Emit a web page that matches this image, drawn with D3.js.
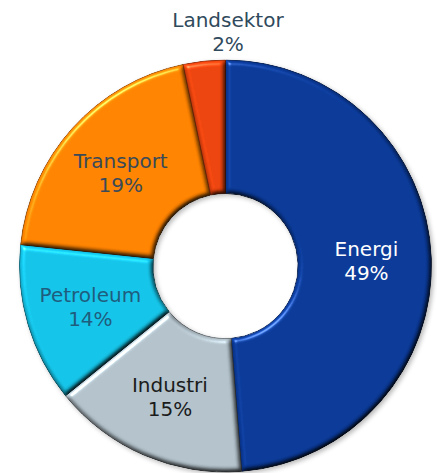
<!DOCTYPE html>
<html lang="en">
<head>
  <meta charset="UTF-8">
  <title>Utslipp per sektor</title>
  <style>
    body { margin: 0; background: #fff; }
    svg { display: block; }
    .lbl { font-family: 'DejaVu Sans', Verdana, sans-serif; font-size: 20px; text-anchor: middle; }
  </style>
</head>
<body>
<svg width="437" height="473"></svg>

<script src="https://cdn.jsdelivr.net/npm/d3@7"></script>
<script>
// data (shares as drawn, labels as printed)
const sectors = ["Energi", "Industri", "Petroleum", "Transport", "Landsektor"];
const shares = [48.75, 15.4, 12.5, 20.05, 3.3];
const pctLabels = ["49%", "15%", "14%", "19%", "2%"];
const colors = ["#0a3997", "#b2c1ca", "#14c4e8", "#ff8300", "#ec440e"];
const textColors = ["#ffffff", "#1b1b1b", "#1f5d7e", "#3a4a58", "#2f4a5c"];

const width = 437, height = 473;
const cx = 225.5, cy = 266;
const outerR = 206, innerR = 72.5;

const svg = d3.select("svg");
const defs = svg.append("defs");

// bevel look: diffuse light for the edges + a soft specular glint
const f = defs.append("filter").attr("id", "bevel")
  .attr("color-interpolation-filters", "sRGB")
  .attr("x", "-5%").attr("y", "-5%").attr("width", "110%").attr("height", "110%");
f.append("feGaussianBlur").attr("in", "SourceAlpha").attr("stdDeviation", 2.4).attr("result", "blur");
f.append("feDiffuseLighting").attr("in", "blur").attr("surfaceScale", 4)
  .attr("diffuseConstant", 1).attr("lighting-color", "#fff").attr("result", "diff")
  .append("feDistantLight").attr("azimuth", 235).attr("elevation", 60);
f.append("feComposite").attr("in", "SourceGraphic").attr("in2", "diff")
  .attr("operator", "arithmetic").attr("k1", 1.155).attr("k2", 0).attr("k3", 0).attr("k4", 0)
  .attr("result", "shaded");
f.append("feSpecularLighting").attr("in", "blur").attr("surfaceScale", 4)
  .attr("specularConstant", 0.55).attr("specularExponent", 40)
  .attr("lighting-color", "#fff").attr("result", "spec")
  .append("feDistantLight").attr("azimuth", 235).attr("elevation", 40);
f.append("feComposite").attr("in", "spec").attr("in2", "SourceAlpha")
  .attr("operator", "in").attr("result", "specIn");
f.append("feComposite").attr("in", "shaded").attr("in2", "specIn")
  .attr("operator", "arithmetic").attr("k1", 0).attr("k2", 1).attr("k3", 0.8).attr("k4", 0)
  .attr("result", "lit");
f.append("feComposite").attr("in", "lit").attr("in2", "SourceAlpha").attr("operator", "in");

// faint shadow under the ring
const sh = defs.append("filter").attr("id", "shadow")
  .attr("x", "-10%").attr("y", "-10%").attr("width", "120%").attr("height", "120%");
sh.append("feGaussianBlur").attr("in", "SourceAlpha").attr("stdDeviation", 2.5).attr("result", "b");
sh.append("feOffset").attr("in", "b").attr("dx", 1.5).attr("dy", 2).attr("result", "o");
sh.append("feComponentTransfer").attr("in", "o")
  .append("feFuncA").attr("type", "linear").attr("slope", 0.3);

const pie = d3.pie().sort(null).value(d => d.v).startAngle(0).endAngle(2 * Math.PI);
const arcs = pie(sectors.map((s, i) => ({ name: s, v: shares[i], i })));

const arc = d3.arc().innerRadius(innerR).outerRadius(outerR);
const labelArc = d3.arc().innerRadius(141).outerRadius(141);

const g = svg.append("g").attr("transform", `translate(${cx},${cy})`);

g.append("g").attr("filter", "url(#shadow)")
  .selectAll("path").data(arcs).join("path")
  .attr("d", arc).attr("fill", "#000");

g.append("g").selectAll("path").data(arcs).join("path")
  .attr("d", arc)
  .attr("fill", d => colors[d.data.i])
  .attr("stroke", d => d3.color(colors[d.data.i]).darker(1.3))
  .attr("stroke-width", 0.9)
  .attr("filter", "url(#bevel)");

// labels inside the slices
const inside = arcs.filter(d => d.data.name !== "Landsektor");
const lbl = g.append("g").selectAll("text").data(inside).join("text")
  .attr("class", "lbl")
  .attr("fill", d => textColors[d.data.i])
  .attr("transform", d => `translate(${labelArc.centroid(d)})`);
lbl.append("tspan").attr("x", 0).attr("y", -4).text(d => d.data.name);
lbl.append("tspan").attr("x", 0).attr("y", 20).text(d => pctLabels[d.data.i]);

// Landsektor sits above the ring
const li = sectors.indexOf("Landsektor");
const topLabel = svg.append("text").attr("class", "lbl").attr("fill", textColors[li]);
topLabel.append("tspan").attr("x", 228).attr("y", 27).text(sectors[li]);
topLabel.append("tspan").attr("x", 228).attr("y", 51).text(pctLabels[li]);
</script>
</body>
</html>
